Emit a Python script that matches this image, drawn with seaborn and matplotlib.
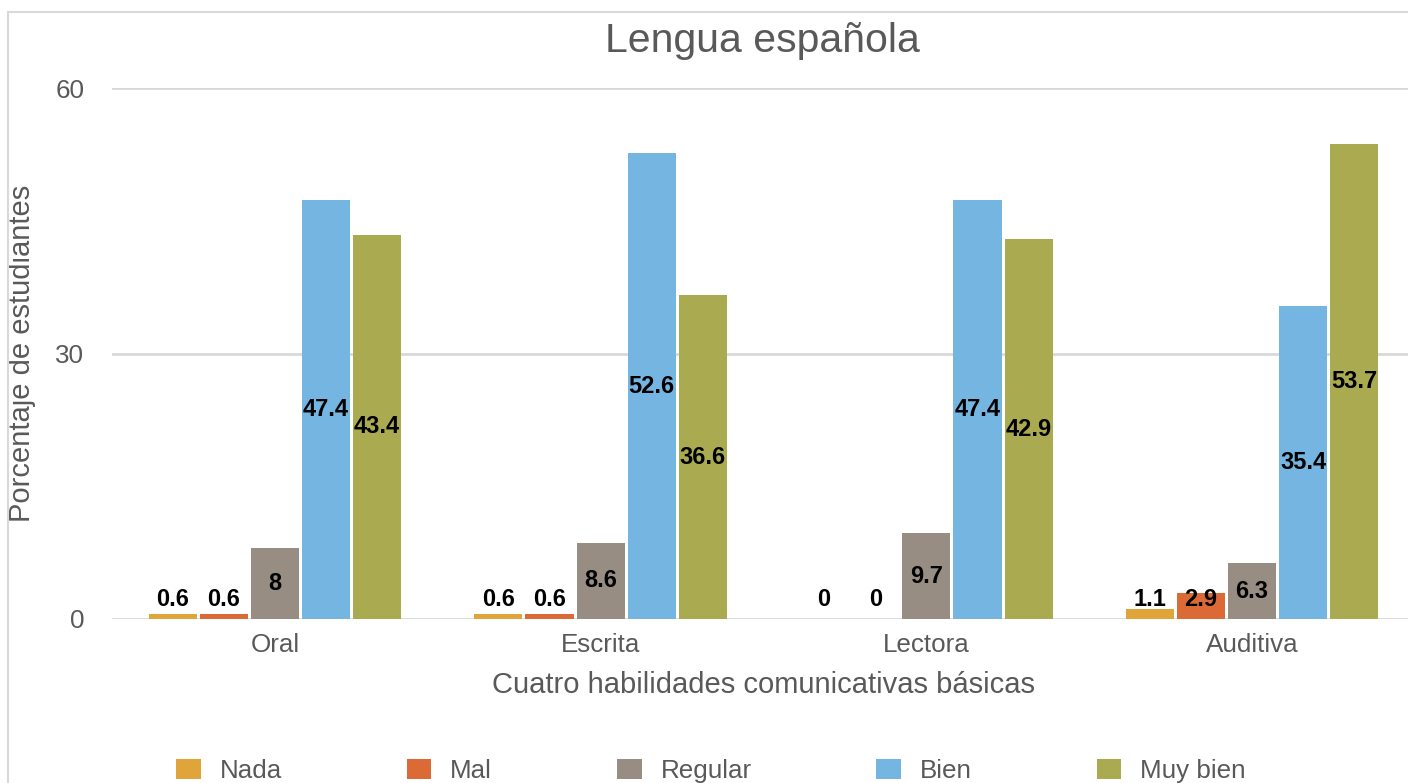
import matplotlib
matplotlib.use("Agg")
import matplotlib.pyplot as plt
from matplotlib.patches import Rectangle
import seaborn as sns
import pandas as pd

# Skills (x categories) and rating levels (hue)
habilidades = ["Oral", "Escrita", "Lectora", "Auditiva"]
niveles = ["Nada", "Mal", "Regular", "Bien", "Muy bien"]

# Percentage of students per level, one list per level (order follows habilidades)
nada = [0.6, 0.6, 0, 1.1]
mal = [0.6, 0.6, 0, 2.9]
regular = [8, 8.6, 9.7, 6.3]
bien = [47.4, 52.6, 47.4, 35.4]
muy_bien = [43.4, 36.6, 42.9, 53.7]

colores = ["#DFA53A", "#DC6A37", "#978D83", "#74B5E1", "#AAAB50"]
y_ticks = [0, 30, 60]

valores = {"Nada": nada, "Mal": mal, "Regular": regular, "Bien": bien, "Muy bien": muy_bien}
df = pd.DataFrame(
    [(h, n, valores[n][i]) for n in niveles for i, h in enumerate(habilidades)],
    columns=["habilidad", "nivel", "porcentaje"],
)

sns.set_theme(style="white")
plt.rcParams["font.family"] = ["Liberation Sans", "DejaVu Sans"]
GRIS = "#595959"

W, H = 1408, 783
fig = plt.figure(figsize=(W / 100, H / 100), dpi=100)
ax_left, ax_right, ax_bottom, ax_top = 112, 1415, 619, 88
ax = fig.add_axes([ax_left / W, 1 - ax_bottom / H, (ax_right - ax_left) / W, (ax_bottom - ax_top) / H])

sns.barplot(
    data=df, x="habilidad", y="porcentaje", hue="nivel",
    order=habilidades, hue_order=niveles, palette=colores,
    width=0.785, gap=0.06, errorbar=None, ax=ax, legend=False,
    saturation=1, linewidth=0,
)

ax.set_ylim(0, 60)
ax.set_yticks(y_ticks)
ax.set_xlim(-0.5, len(habilidades) - 0.5)
ax.yaxis.grid(True, color="#D9D9D9", linewidth=2.0)
ax.set_axisbelow(True)
for s in ax.spines.values():
    s.set_visible(False)
ax.tick_params(axis="y", length=0, pad=20, labelsize=18.7, labelcolor=GRIS)
ax.tick_params(axis="x", length=0, pad=10, labelsize=18.7, labelcolor=GRIS)

# Value labels: centred in the bar, lifted for very short bars
for cont, nivel in zip(ax.containers, niveles):
    for bar, v in zip(cont, valores[nivel]):
        xc = bar.get_x() + bar.get_width() / 2
        yl = max(v / 2, 2.2)
        ax.text(xc, yl, f"{v:g}", ha="center", va="center",
                fontsize=17, fontweight="bold", color="black")

ax.set_xlabel("Cuatro habilidades comunicativas básicas", fontsize=21, color=GRIS)
ax.xaxis.label.set_va("center")
ax.xaxis.set_label_coords(0.5, -(685 - ax_bottom) / (ax_bottom - ax_top))
ax.set_ylabel("Porcentaje de estudiantes", fontsize=21, color=GRIS)
ax.yaxis.label.set_va("center")
ax.yaxis.set_label_coords((22 - ax_left) / (ax_right - ax_left), 0.5)

fig.text(762 / W, 1 - 52 / H, "Lengua española", ha="center", va="baseline",
         fontsize=29.5, color=GRIS)

# Legend along the bottom edge
handles = [Rectangle((0, 0), 1, 1, facecolor=c, edgecolor="none") for c in colores]
fig.legend(handles, niveles, loc="center", bbox_to_anchor=(711 / W, 1 - 771 / H),
           ncol=5, frameon=False, fontsize=18.7, labelcolor=GRIS,
           handlelength=0.95, handleheight=0.8, handletextpad=0.73,
           columnspacing=4.8)

# Chart area border
fig.patches.append(Rectangle((8 / W, -0.2), 1.5, 1.2 - 12 / H,
                             transform=fig.transFigure, fill=False,
                             edgecolor="#D9D9D9", linewidth=1.5))

fig.savefig("out.png", dpi=100)
